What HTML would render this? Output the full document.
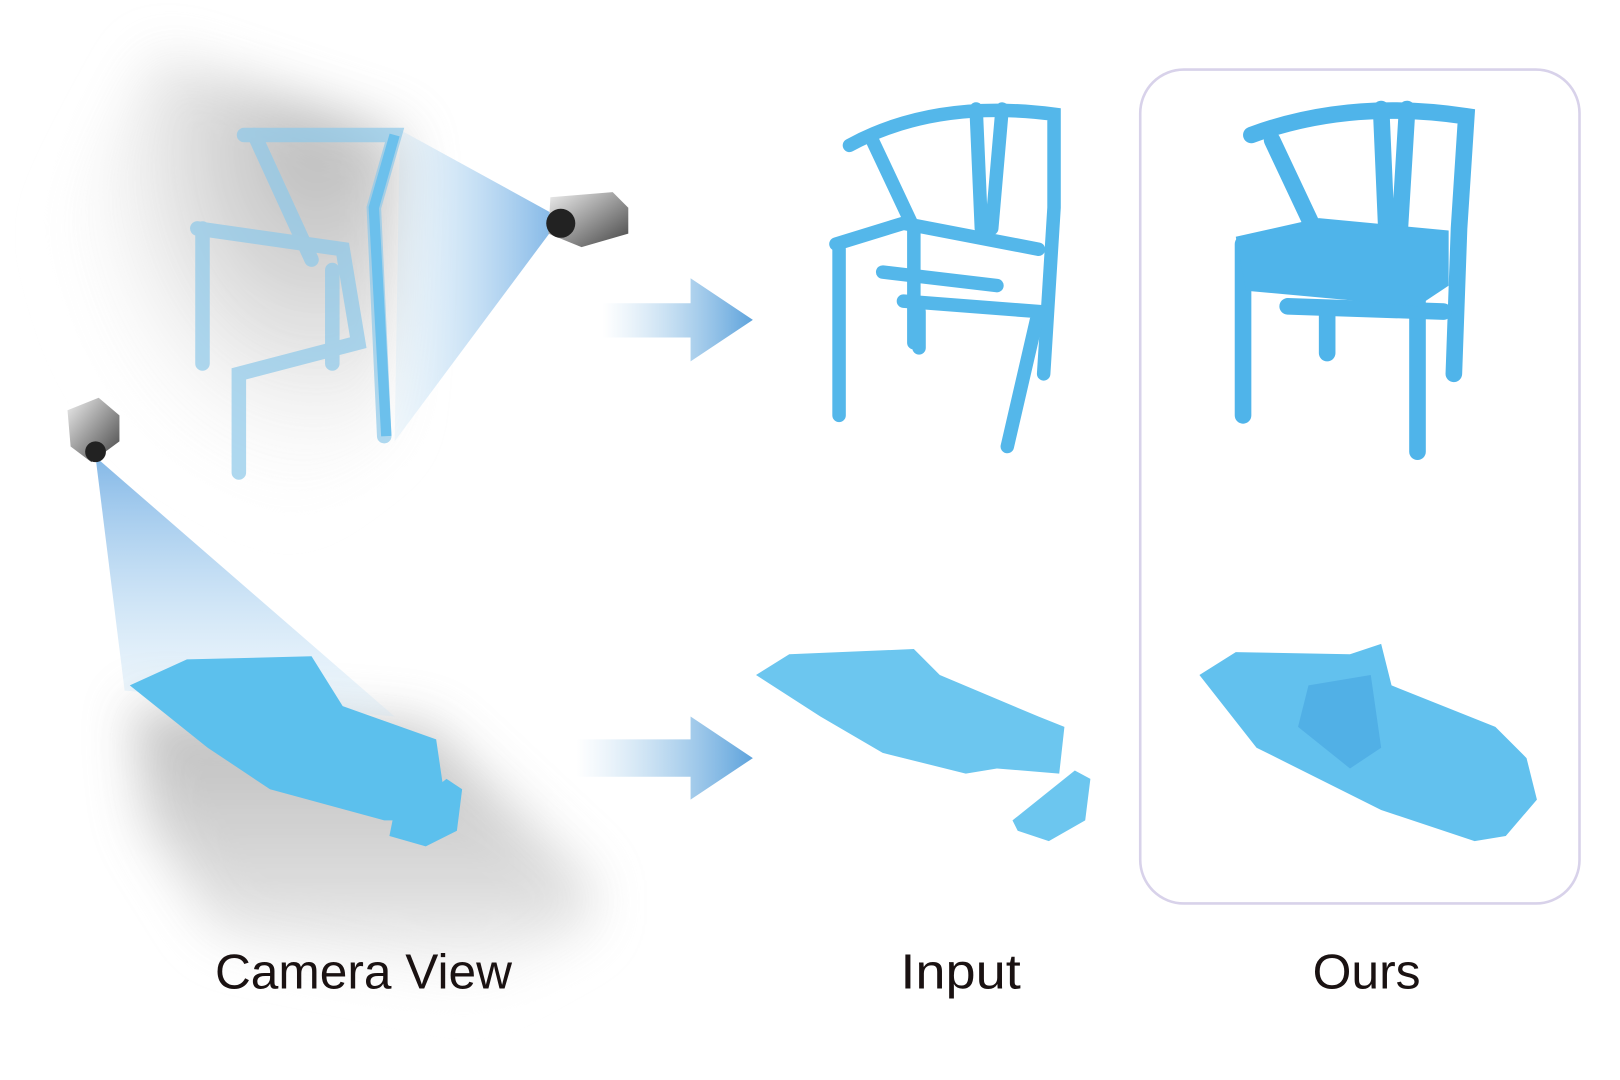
<!DOCTYPE html>
<html><head><meta charset="utf-8"><style>
html,body{margin:0;padding:0;background:#fff;width:1620px;height:1080px;overflow:hidden}
svg{display:block}
text{font-family:"Liberation Sans",sans-serif;fill:#1a1212}
</style></head><body>
<svg width="1620" height="1080" viewBox="0 0 1560 1040" preserveAspectRatio="none" xmlns="http://www.w3.org/2000/svg">
<defs>
<filter id="blur" x="-20%" y="-20%" width="140%" height="140%"><feGaussianBlur stdDeviation="25"/></filter>
<filter id="blur2" x="-20%" y="-20%" width="140%" height="140%"><feGaussianBlur stdDeviation="4"/></filter>
<radialGradient id="g1" cx="0.75" cy="0.2" r="0.8">
<stop offset="0" stop-color="#b0b0b0"/><stop offset="0.5" stop-color="#dedede"/><stop offset="1" stop-color="#fff" stop-opacity="0"/></radialGradient>
<linearGradient id="g2" x1="0" y1="0" x2="0" y2="1">
<stop offset="0" stop-color="#b5b5b5"/><stop offset="0.7" stop-color="#dcdcdc"/><stop offset="1" stop-color="#fff"/></linearGradient>
<linearGradient id="beam1" x1="1" y1="0" x2="0" y2="0">
<stop offset="0" stop-color="#3d8fd9" stop-opacity="0.9"/><stop offset="1" stop-color="#bfe0f5" stop-opacity="0.3"/></linearGradient>
<linearGradient id="beam2" x1="0" y1="0" x2="0" y2="1">
<stop offset="0" stop-color="#3d8fd9" stop-opacity="0.9"/><stop offset="1" stop-color="#bfe0f5" stop-opacity="0.3"/></linearGradient>
<linearGradient id="arr" x1="0" y1="0" x2="1" y2="0">
<stop offset="0" stop-color="#9cc8e8" stop-opacity="0"/><stop offset="1" stop-color="#5ea3dc"/></linearGradient>
<linearGradient id="cam" x1="0" y1="0" x2="1" y2="1"><stop offset="0" stop-color="#eee"/><stop offset="1" stop-color="#444"/></linearGradient>
</defs>
<!-- top grey wall -->
<path d="M150 50 L390 130 L380 420 L280 510 L90 400 L50 220 Z" fill="url(#g1)" filter="url(#blur)" opacity="0.85"/>
<!-- top beam -->
<polygon points="540,210 385,125 380,425" fill="url(#beam1)" opacity="0.75"/>
<!-- faded chair -->
<g stroke="#8ec9ea" stroke-width="14" fill="none" stroke-linecap="round" opacity="0.7">
<path d="M235 130 L380 130 L360 200 L370 420"/>
<path d="M190 220 L330 240 L345 330 L230 360 L230 455"/>
<path d="M195 220 L195 350 M320 260 L320 350"/>
<path d="M245 130 L300 250"/>
</g>
<path d="M380 130 L360 200 L372 420" stroke="#6cc0ec" stroke-width="10" fill="none"/>
<!-- camera top -->
<polygon points="530,190 590,185 605,200 605,225 560,238 528,225" fill="url(#cam)"/>
<circle cx="540" cy="215" r="14" fill="#222"/>
<!-- bottom grey floor -->
<path d="M130 680 L410 700 L570 850 L570 890 L460 950 L210 900 L140 790 Z" fill="url(#g2)" filter="url(#blur)" opacity="0.9"/>
<!-- bottom beam -->
<polygon points="92,440 120,665 380,690" fill="url(#beam2)" opacity="0.7"/>
<!-- camera bottom -->
<polygon points="65,395 95,383 115,400 115,425 88,445 68,430" fill="url(#cam)"/>
<circle cx="92" cy="435" r="10" fill="#222"/>
<!-- boat left -->
<polygon points="125,660 180,635 300,632 330,680 420,712 430,780 400,790 370,790 260,760 200,720" fill="#5cc0ed"/>
<polygon points="378,790 430,750 445,760 440,800 410,815 375,805" fill="#5cc0ed"/>
<!-- arrows -->
<polygon points="580,292 665,292 665,268 725,308 665,348 665,325 580,325" fill="url(#arr)"/>
<polygon points="555,712 665,712 665,690 725,730 665,770 665,748 555,748" fill="url(#arr)"/>
<!-- input chair -->
<g stroke="#54b7ea" stroke-width="13" fill="none" stroke-linecap="round">
<path d="M818 140 Q900 95 1015 110 L1015 200 L1005 360"/>
<path d="M840 135 L880 220 L880 330"/>
<path d="M940 105 L945 220 M965 105 L955 220"/>
<path d="M805 235 L870 215 L1000 240"/>
<path d="M808 240 L808 400 M870 290 L1000 300 L970 430"/>
<path d="M850 262 L960 275"/>
<path d="M885 300 L885 335"/>
</g>
<!-- ours chair -->
<g stroke="#4fb4ea" stroke-width="16" fill="none" stroke-linecap="round">
<path d="M1205 130 Q1300 95 1412 112 L1405 220 L1400 360"/>
<path d="M1225 135 L1265 220"/>
<path d="M1330 105 L1335 220 M1355 105 L1348 220"/>
<path d="M1197 235 L1197 400 M1365 290 L1365 435 M1278 300 L1278 340"/>
<path d="M1240 295 L1390 300"/>
</g>
<polygon points="1190,228 1270,210 1395,222 1395,275 1365,295 1200,280" fill="#4fb4ea"/>
<!-- input boat -->
<polygon points="728,650 760,630 880,625 905,650 1000,690 1025,700 1020,745 960,740 930,745 850,725 790,690" fill="#6cc6ef"/>
<polygon points="975,790 1035,742 1050,750 1045,790 1010,810 980,800" fill="#6cc6ef"/>
<!-- ours boat -->
<polygon points="1155,650 1190,628 1300,630 1330,620 1340,660 1440,700 1470,730 1480,770 1450,805 1420,810 1330,780 1210,720" fill="#62c1ee"/>
<polygon points="1260,660 1320,650 1330,720 1300,740 1250,700" fill="#4aa8e2" opacity="0.7"/>
<!-- ours frame -->
<rect x="1098" y="67" width="423" height="803" rx="42" fill="none" stroke="#d8d2ea" stroke-width="2.5"/>
<!-- labels -->
<text x="350" y="952" font-size="47" text-anchor="middle" textLength="286" lengthAdjust="spacingAndGlyphs">Camera View</text>
<text x="925" y="952" font-size="47" text-anchor="middle" textLength="116" lengthAdjust="spacingAndGlyphs">Input</text>
<text x="1316" y="952" font-size="47" text-anchor="middle" textLength="104" lengthAdjust="spacingAndGlyphs">Ours</text>
</svg>
</body></html>
